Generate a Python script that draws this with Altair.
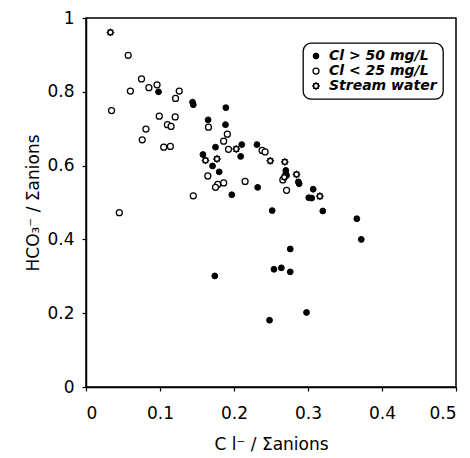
import altair as alt
import pandas as pd

# Cl > 50 mg/L (filled)
hi_x = [0.098, 0.144, 0.145, 0.189, 0.165, 0.1885, 0.175, 0.2105, 0.231, 0.209,
        0.158, 0.171, 0.180, 0.232, 0.197, 0.2516, 0.270, 0.270, 0.271, 0.287,
        0.288, 0.307, 0.301, 0.305, 0.320, 0.366, 0.372, 0.276, 0.254, 0.264,
        0.276, 0.174, 0.248, 0.298]
hi_y = [0.800, 0.772, 0.765, 0.757, 0.724, 0.711, 0.650, 0.657, 0.657, 0.625,
        0.630, 0.599, 0.583, 0.541, 0.521, 0.478, 0.587, 0.578, 0.573, 0.556,
        0.551, 0.536, 0.513, 0.512, 0.477, 0.456, 0.400, 0.374, 0.319, 0.323,
        0.312, 0.301, 0.181, 0.202]

# Cl < 25 mg/L (open)
lo_x = [0.057, 0.075, 0.060, 0.085, 0.096, 0.126, 0.121, 0.0345, 0.099, 0.1205,
        0.1655, 0.191, 0.081, 0.110, 0.115, 0.076, 0.105, 0.114, 0.186, 0.1926,
        0.238, 0.242, 0.1646, 0.215, 0.186, 0.178, 0.175, 0.145, 0.045, 0.266,
        0.271]
lo_y = [0.899, 0.835, 0.802, 0.811, 0.819, 0.802, 0.782, 0.749, 0.734, 0.732,
        0.704, 0.685, 0.699, 0.711, 0.706, 0.670, 0.650, 0.652, 0.666, 0.644,
        0.641, 0.637, 0.572, 0.557, 0.553, 0.549, 0.541, 0.518, 0.4725, 0.561,
        0.533]

# Stream water
st_x = [0.033, 0.203, 0.1615, 0.177, 0.249, 0.2686, 0.268, 0.2845, 0.316]
st_y = [0.961, 0.645, 0.614, 0.618, 0.613, 0.610, 0.569, 0.576, 0.517]

groups = ["Cl > 50 mg/L", "Cl < 25 mg/L", "Stream water"]
x_ticks = [0, 0.1, 0.2, 0.3, 0.4, 0.5]
y_ticks = [0, 0.2, 0.4, 0.6, 0.8, 1]

rows = []
for g, xs, ys in zip(groups, [hi_x, lo_x, st_x], [hi_y, lo_y, st_y]):
    for a, b in zip(xs, ys):
        rows.append({"cl": a, "hco3": b, "group": g})
df = pd.DataFrame(rows)

FONT = "DejaVu Sans"
flower = ("M0,-1 L0.3,-0.7 L0.7,-0.7 L0.7,-0.3 L1,0 L0.7,0.3 L0.7,0.7 L0.3,0.7 "
          "L0,1 L-0.3,0.7 L-0.7,0.7 L-0.7,0.3 L-1,0 L-0.7,-0.3 L-0.7,-0.7 L-0.3,-0.7 Z")

leg = alt.Legend(title=None)
chart = alt.Chart(df).mark_point(filled=False, opacity=1).encode(
    x=alt.X("cl:Q", scale=alt.Scale(domain=[0, 0.5], nice=False),
            axis=alt.Axis(values=x_ticks, format="~g", title="C l⁻ / Σanions",
                          titleY=57, titleBaseline="middle")),
    y=alt.Y("hco3:Q", scale=alt.Scale(domain=[0, 1], nice=False),
            axis=alt.Axis(values=y_ticks, format="~g", title="HCO₃⁻ / Σanions",
                          titleX=-53, titleBaseline="middle")),
    fill=alt.Fill("group:N", scale=alt.Scale(domain=groups, range=["black", "white", "white"]),
                  legend=leg),
    stroke=alt.Stroke("group:N", scale=alt.Scale(domain=groups, range=["black", "black", "black"]),
                      legend=leg),
    shape=alt.Shape("group:N", scale=alt.Scale(domain=groups, range=["circle", "circle", flower]),
                    legend=leg),
    size=alt.Size("group:N", scale=alt.Scale(domain=groups, range=[34, 38, 22]),
                  legend=leg),
    strokeWidth=alt.StrokeWidth("group:N", scale=alt.Scale(domain=groups, range=[1, 1.5, 1.6]),
                                legend=leg),
).properties(
    width=370, height=369,
    autosize=alt.AutoSizeParams(type="none"),
    padding={"left": 78, "top": 10, "right": 6, "bottom": 68},
).configure_view(
    stroke="black", strokeWidth=1.5
).configure_axis(
    domainColor="black", domainWidth=1.5, tickColor="black", tickSize=4, tickWidth=1.2,
    grid=False, labelFont=FONT, labelFontSize=17, labelColor="black",
    titleFont=FONT, titleFontSize=17, titleFontWeight="normal", titleColor="black",
    labelAngle=0,
).configure_axisX(labelPadding=14).configure_axisY(labelPadding=8).configure_legend(
    orient="none", legendX=217, legendY=25, strokeColor="black", cornerRadius=8,
    padding=6, labelFont=FONT, labelFontSize=14, labelFontStyle="italic",
    labelFontWeight="bold", labelColor="black", rowPadding=1, fillColor="white",
    strokeWidth=1.3, labelOffset=6,
)

chart.save("out.html", embed_options={"renderer": "svg", "actions": False})
